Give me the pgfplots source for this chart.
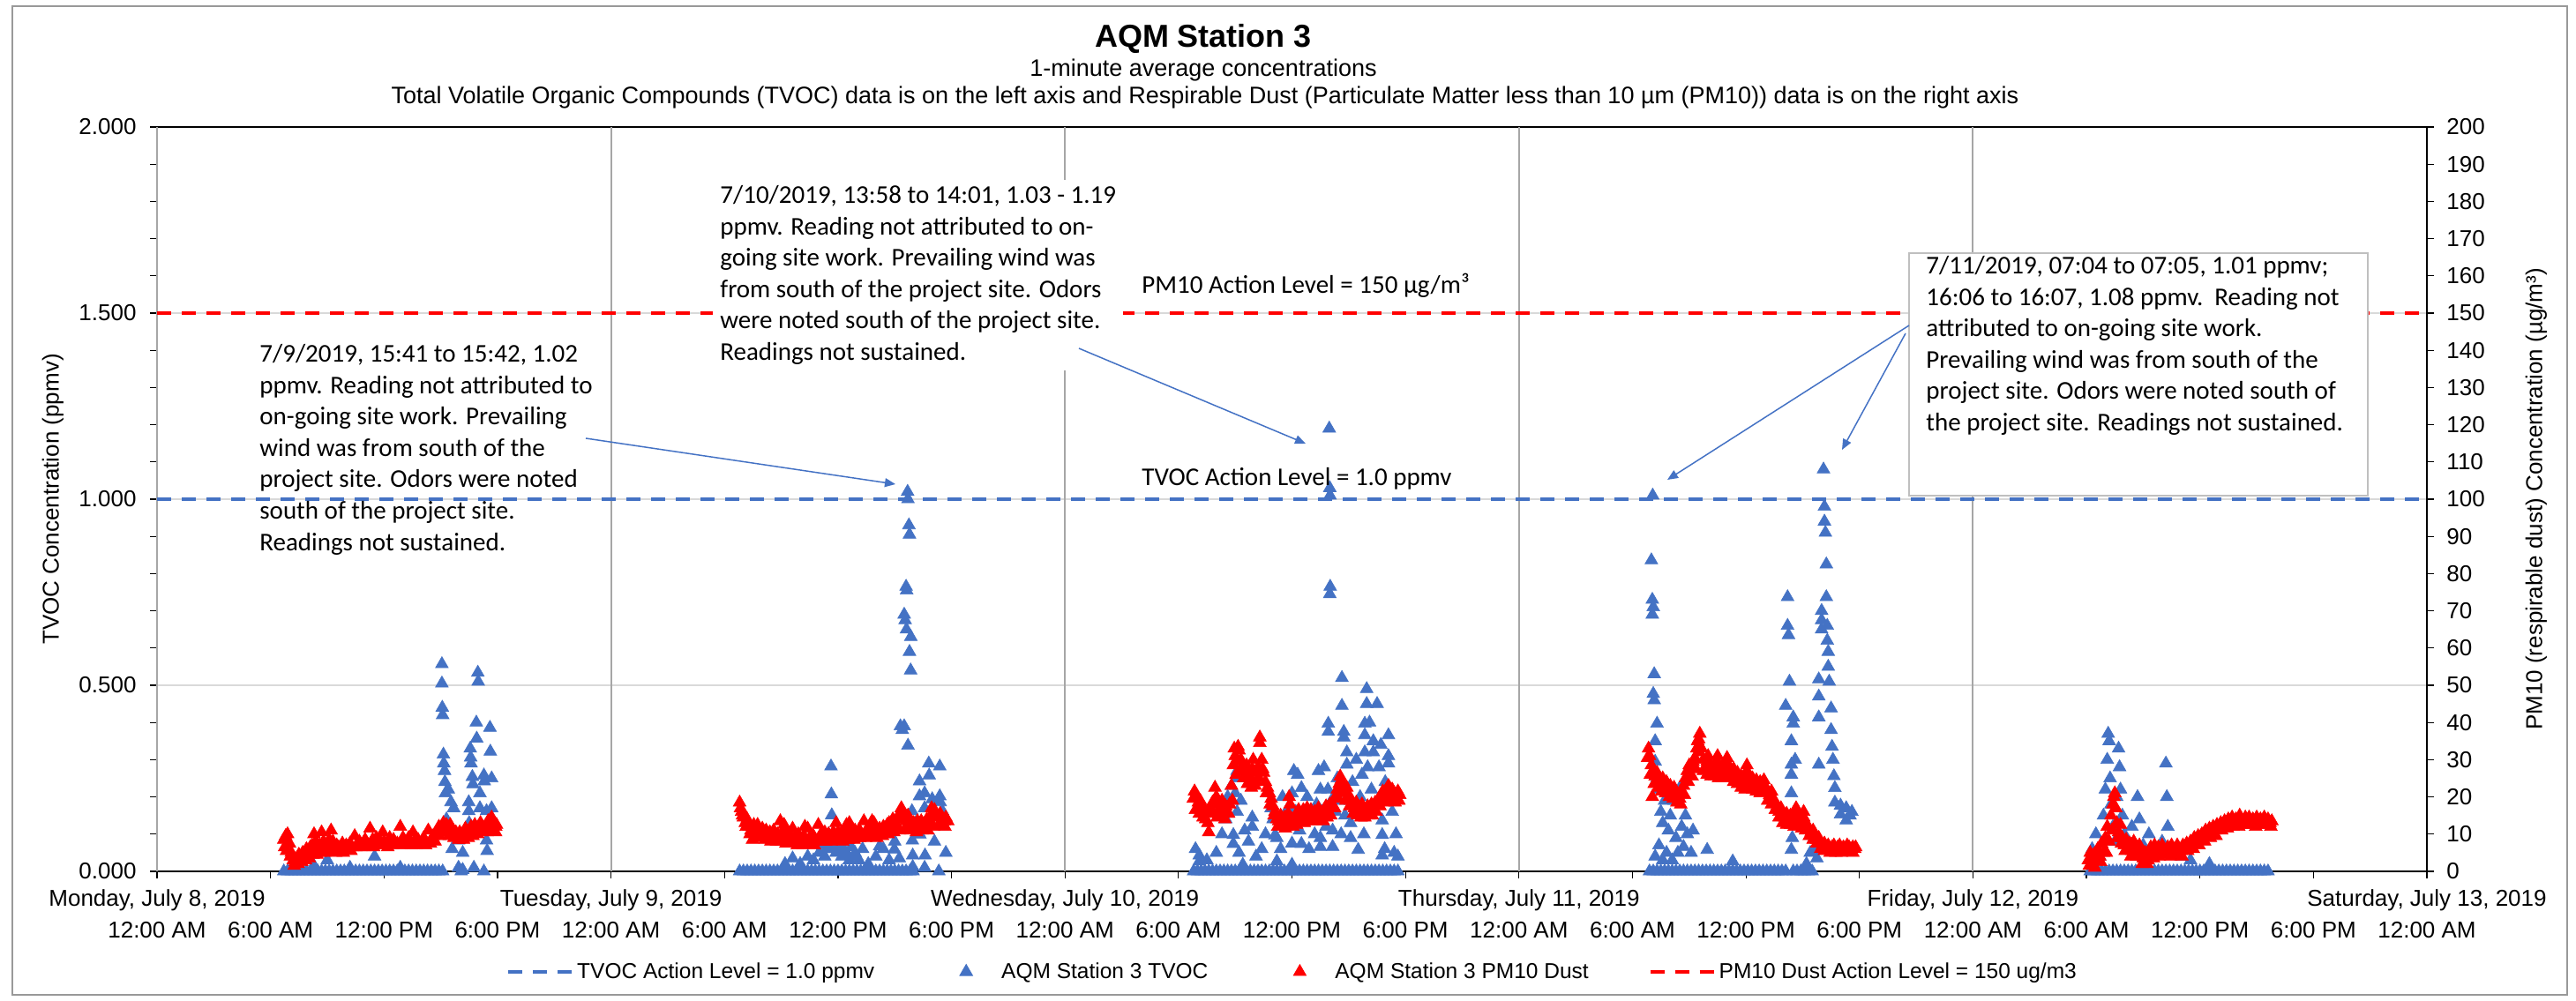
\documentclass[border=0pt]{standalone}
\usepackage{fontspec}
\setmainfont{Liberation Sans}
\newfontfamily\calibri{Carlito}
\usepackage{pgfplots}
\pgfplotsset{compat=1.18}
\usetikzlibrary{arrows.meta}
\definecolor{tvoc}{HTML}{4472C4}
\definecolor{pmred}{HTML}{FF0000}
\definecolor{vgrid}{HTML}{A6A6A6}
\definecolor{hgrid}{HTML}{D9D9D9}
\definecolor{boxgray}{HTML}{BFBFBF}
\pgfplotsset{every tick label/.append style={font=\fontsize{13}{15.6}\selectfont},
  linelegend/.style={legend image code/.code={\draw[##1] (0pt,0pt) -- (36pt,0pt);}},
  marklegend/.style={legend image code/.code={\path[draw=none, fill=none] (0pt,-3pt) rectangle (36pt,3pt); \draw[##1] plot coordinates {(18pt,0pt)};}},
}
\begin{document}
\begin{tikzpicture}
\useasboundingbox (0,0) rectangle (1460pt,567.5pt);
\draw[line width=1pt, black!40] (7pt,3.5pt) rectangle (1455pt,564pt);
% ---------------- left axis: TVOC
\begin{axis}[at={(89pt,73.5pt)}, anchor=south west, scale only axis,
  width=1286.5pt, height=422pt,
  xmin=0, xmax=120, ymin=0, ymax=2, clip=false,
  axis line style={black, line width=0.75pt},
  tick align=outside, tick pos=left,
  major tick length=4pt, minor tick length=4pt,
  tick style={black, line width=0.6pt},
  xtick={0,6,...,120},
  xticklabels={12:00 AM,6:00 AM,12:00 PM,6:00 PM,12:00 AM,6:00 AM,12:00 PM,6:00 PM,12:00 AM,6:00 AM,12:00 PM,6:00 PM,12:00 AM,6:00 AM,12:00 PM,6:00 PM,12:00 AM,6:00 AM,12:00 PM,6:00 PM,12:00 AM},
  xticklabel style={anchor=base, yshift=-34pt},
  extra x ticks={0,24,48,72,96,120},
  extra x tick labels={{Monday, July 8, 2019},{Tuesday, July 9, 2019},{Wednesday, July 10, 2019},{Thursday, July 11, 2019},{Friday, July 12, 2019},{Saturday, July 13, 2019}},
  extra x tick style={grid=major, major grid style={vgrid, line width=1pt}, tick label style={yshift=18pt}},
  ytick={0,0.5,...,2}, minor y tick num=4,
  ymajorgrids, major grid style={hgrid, line width=1pt},
  yticklabel style={xshift=-4.2pt, /pgf/number format/.cd, fixed, fixed zerofill, precision=3, assume math mode=true},
  every axis y label/.style={at={(rel axis cs:0,0.5)}, xshift=-59pt, rotate=90, anchor=center, font=\fontsize{13}{15.6}\selectfont},
  ylabel={TVOC Concentration (ppmv)},
]
\addplot[tvoc, line width=2pt, dash pattern=on 8pt off 6pt] coordinates {(0,1) (120,1)};
\addplot[only marks, mark=triangle*, mark size=4.2pt, color=tvoc, mark options={fill=tvoc, draw=tvoc, line width=0.3pt}] coordinates {
(6.7,0) (6.9,0) (7.1,0) (7.3,0) (7.5,0) (7.7,0) (7.9,0) (8.1,0) (8.3,0) (8.5,0) (8.7,0) (8.9,0) (9.1,0) (9.3,0) (9.5,0) (9.7,0) (9.9,0) (10.1,0) (10.3,0) (10.5,0) (10.7,0) (10.9,0) (11.1,0) (11.3,0) (11.5,0) (11.7,0) (11.9,0) (12.1,0) (12.3,0) (12.5,0) (12.7,0) (12.9,0) (13.1,0) (13.3,0) (13.5,0) (13.7,0) (13.9,0) (14.1,0) (14.3,0) (14.5,0) (14.7,0) (14.9,0) (15.1,0)
(8.3,0.015) (9.0,0.03) (10.2,0.01) (11.5,0.04) (12.86,0.01)
(15.06,0.557) (15.06,0.505) (15.08,0.44) (15.1,0.42) (15.14,0.314) (15.16,0.29) (15.2,0.27) (15.22,0.24) (15.25,0.21) (15.3,0.14) (15.4,0.22) (15.5,0.12) (15.54,0.186) (15.6,0.06) (15.68,0.17) (15.94,0.083) (15.94,0.01) (16.08,0.0) (16.16,0.05) (16.16,0.004) (16.35,0.115) (16.48,0.186) (16.48,0.162) (16.5,0.13) (16.56,0.33) (16.58,0.306) (16.6,0.29) (16.67,0.254) (16.7,0.234) (16.75,0.01) (16.88,0.40) (16.9,0.357) (16.96,0.534) (16.98,0.51) (17.07,0.21) (17.07,0.17) (17.28,0.258) (17.3,0.242) (17.28,0.0) (17.42,0.162) (17.42,0.083) (17.45,0.055) (17.6,0.386) (17.62,0.322) (17.69,0.25) (17.69,0.17)
(30.8,0) (31.0,0) (31.2,0) (31.4,0) (31.6,0) (31.8,0) (32.0,0) (32.2,0) (32.4,0) (32.6,0) (32.8,0) (33.0,0) (33.2,0) (33.4,0) (33.6,0) (33.8,0) (34.0,0) (34.2,0) (34.4,0) (34.6,0) (34.8,0) (35.0,0) (35.2,0) (35.4,0) (35.6,0) (35.8,0) (36.0,0) (36.2,0) (36.4,0) (36.6,0) (36.8,0) (37.0,0) (37.2,0) (37.4,0) (37.6,0) (37.8,0) (38.0,0) (38.2,0) (38.4,0) (38.6,0) (38.8,0) (39.0,0) (39.2,0) (39.4,0) (39.6,0) (39.8,0)
(33.2,0.02) (33.6,0.035) (34.0,0.02) (34.4,0.04) (34.7,0.03) (35.1,0.09) (35.3,0.04) (35.5,0.1) (35.8,0.06) (36.0,0.1) (36.2,0.04) (36.4,0.08) (36.6,0.03) (36.8,0.09) (37.0,0.04) (37.3,0.06) (37.6,0.02) (38.0,0.04) (38.4,0.06) (38.5,0.1) (38.7,0.03) (39.0,0.08) (39.1,0.12)
(35.0,0.05) (35.2,0.07) (35.4,0.06) (35.63,0.282) (35.65,0.207) (35.67,0.151) (35.7,0.075) (35.9,0.05) (36.1,0.07) (36.3,0.06) (36.5,0.045) (36.7,0.065) (36.9,0.05) (37.1,0.03) (38.17,0.099) (38.2,0.067) (38.98,0.059) (39.24,0.035)
(39.68,1.02) (39.7,1.0) (39.75,0.93) (39.78,0.905) (39.6,0.765) (39.63,0.755) (39.5,0.69) (39.55,0.675) (39.62,0.65) (39.85,0.63) (39.78,0.59) (39.84,0.54) (39.3,0.39) (39.4,0.38) (39.5,0.39) (39.7,0.338)
(39.91,0.162) (39.91,0.115) (39.93,0.083) (39.95,0.043) (39.95,0.012) (39.97,0.0) (40.1,0.13) (40.31,0.242) (40.31,0.202) (40.33,0.099) (40.58,0.21) (40.58,0.17) (40.6,0.043) (40.58,0.01) (40.8,0.29) (40.82,0.258) (40.98,0.194) (41.1,0.08) (41.33,0.0) (41.38,0.282) (41.38,0.202) (41.4,0.186) (41.52,0.162) (41.52,0.122) (41.7,0.05)
(54.8,0) (55.0,0) (55.2,0) (55.4,0) (55.6,0) (55.8,0) (56.0,0) (56.2,0) (56.4,0) (56.6,0) (56.8,0) (57.0,0) (57.2,0) (57.4,0) (57.6,0) (57.8,0) (58.0,0) (58.2,0) (58.4,0) (58.6,0) (58.8,0) (59.0,0) (59.2,0) (59.4,0) (59.6,0) (59.8,0) (60.0,0) (60.2,0) (60.4,0) (60.6,0) (60.8,0) (61.0,0) (61.2,0) (61.4,0) (61.6,0) (61.8,0) (62.0,0) (62.2,0) (62.4,0) (62.6,0) (62.8,0) (63.0,0) (63.2,0) (63.4,0) (63.6,0) (63.8,0) (64.0,0) (64.2,0) (64.4,0) (64.6,0) (64.8,0) (65.0,0) (65.2,0) (65.4,0) (65.6,0)
(55.1,0.043) (55.1,0.027) (54.9,0.06) (57.1,0.27) (57.1,0.25) (57.1,0.16) (56.9,0.098) (56.9,0.074) (57.9,0.145) (57.9,0.12) (59.2,0.09) (60.1,0.27) (60.0,0.21) (60.0,0.13) (60.0,0.075) (60.5,0.224) (61.5,0.22) (62.02,0.765) (62.0,0.745) (61.97,1.19) (62.0,1.03) (62.01,1.01) (61.92,0.397) (61.92,0.375) (62.64,0.52) (62.64,0.445) (62.74,0.375) (62.74,0.36) (62.9,0.32) (62.9,0.287) (62.15,0.066) (62.15,0.11) (62.3,0.16) (63.95,0.49) (63.95,0.45) (64.5,0.45) (63.85,0.397) (63.85,0.366) (63.85,0.32) (64.3,0.35) (64.3,0.32) (65.1,0.366) (65.1,0.31) (65.1,0.29) (64.93,0.24) (64.93,0.21) (64.77,0.137) (64.77,0.098) (64.77,0.043) (65.4,0.05) (63.1,0.13) (63.1,0.09) (63.5,0.058) (59.1,0.097) (60.5,0.074) (61.5,0.09) (61.5,0.066) (60.0,0.018) (57.4,0.018) (59.2,0.027) (56.6,0.2) (56.8,0.23) (57.3,0.19) (57.5,0.11) (58.4,0.06) (58.9,0.17) (59.5,0.2) (59.8,0.17) (60.3,0.26) (60.8,0.2) (61.1,0.14) (61.3,0.18) (61.7,0.28) (61.8,0.12) (62.4,0.25) (62.5,0.19) (63.2,0.24) (63.4,0.3) (63.7,0.26) (64.1,0.4) (64.2,0.22) (64.6,0.28) (65.3,0.16) (65.5,0.1)
(55.5,0.03) (56.0,0.05) (56.3,0.1) (56.5,0.14) (57.0,0.21) (57.2,0.05) (57.7,0.08) (58.1,0.04) (58.6,0.1) (59.0,0.14) (59.4,0.06) (59.7,0.12) (60.2,0.16) (60.4,0.11) (60.7,0.15) (60.9,0.06) (61.2,0.1) (61.4,0.27) (61.6,0.16) (61.9,0.22) (62.2,0.2) (62.6,0.1) (62.8,0.15) (63.0,0.2) (63.3,0.16) (63.6,0.2) (63.8,0.1) (64.0,0.28) (64.4,0.18) (64.7,0.34) (64.9,0.06) (65.2,0.22) (65.6,0.04)
(78.9,0) (79.1,0) (79.3,0) (79.5,0) (79.7,0) (79.9,0) (80.1,0) (80.3,0) (80.5,0) (80.7,0) (80.9,0) (81.1,0) (81.3,0) (81.5,0) (81.7,0) (81.9,0) (82.1,0) (82.3,0) (82.5,0) (82.7,0) (82.9,0) (83.1,0) (83.3,0) (83.5,0) (83.7,0) (83.9,0) (84.1,0) (84.3,0) (84.5,0) (84.7,0) (84.9,0) (85.1,0) (85.3,0) (85.5,0) (85.7,0) (85.9,0) (86.1,0) (86.5,0) (86.7,0) (86.9,0) (87.1,0) (87.3,0) (87.5,0)
(79.07,1.01) (79.0,0.836) (79.05,0.73) (79.1,0.71) (79.05,0.69) (79.15,0.53) (79.1,0.477) (79.15,0.46) (79.3,0.397) (79.2,0.35) (79.2,0.295) (79.3,0.25) (79.4,0.22) (79.5,0.16) (79.6,0.13) (79.7,0.19) (79.9,0.11) (80.0,0.15) (80.2,0.19) (80.3,0.09) (80.5,0.224) (80.6,0.12) (80.7,0.066) (80.8,0.15) (80.9,0.1) (81.1,0.05) (81.2,0.11) (81.95,0.058) (83.3,0.027) (79.2,0.04) (79.4,0.07) (79.6,0.03) (79.8,0.05) (80.1,0.03) (80.4,0.05)
(86.2,0.737) (86.2,0.66) (86.25,0.635) (86.3,0.51) (86.1,0.445) (86.5,0.414) (86.5,0.397) (86.4,0.35) (86.4,0.287) (86.4,0.26) (86.4,0.21) (86.4,0.13) (86.45,0.09) (86.4,0.058) (86.6,0.3)
(87.85,0.516) (87.85,0.47) (87.85,0.414) (87.85,0.287) (88.0,0.70) (88.0,0.675) (88.0,0.65) (88.1,1.08) (88.15,0.98) (88.15,0.94) (88.2,0.91) (88.25,0.825) (88.25,0.737) (88.3,0.66) (88.3,0.62) (88.35,0.59) (88.35,0.55) (88.4,0.51) (88.5,0.438) (88.5,0.38) (88.55,0.335) (88.6,0.30) (88.65,0.256) (88.7,0.224) (88.7,0.185) (89.0,0.177) (89.0,0.153) (89.3,0.17) (89.3,0.137) (89.5,0.15) (89.6,0.16) (87.6,0.09) (87.7,0.06) (87.75,0.035) (87.2,0.02) (87.4,0.05)
(102.2,0) (102.4,0) (102.6,0) (102.8,0) (103.0,0) (103.2,0) (103.4,0) (103.6,0) (103.8,0) (104.0,0) (104.2,0) (104.4,0) (104.6,0) (104.8,0) (105.0,0) (105.2,0) (105.4,0) (105.6,0) (105.8,0) (106.0,0) (106.2,0) (106.4,0) (106.6,0) (106.8,0) (107.0,0) (107.2,0) (107.4,0) (107.6,0) (107.8,0) (108.0,0) (108.2,0) (108.4,0) (108.6,0) (108.8,0) (109.0,0) (109.2,0) (109.4,0) (109.6,0) (109.8,0) (110.0,0) (110.2,0) (110.4,0) (110.6,0) (110.8,0) (111.0,0) (111.2,0) (111.4,0) (111.6,0)
(102.3,0.06) (102.5,0.1) (102.7,0.04) (102.9,0.15) (103.0,0.22) (103.1,0.3) (103.15,0.37) (103.2,0.35) (103.25,0.25) (103.3,0.18) (103.4,0.12) (103.5,0.08) (103.6,0.2) (103.7,0.33) (103.75,0.28) (103.8,0.22) (103.9,0.15) (104.0,0.1) (104.2,0.06) (104.4,0.12) (104.7,0.2) (104.8,0.14) (105.0,0.07) (105.3,0.1) (105.6,0.05) (106.0,0.08) (106.2,0.29) (106.25,0.2) (106.3,0.12) (106.5,0.05) (107.0,0.04) (107.5,0.03) (108.5,0.02)
};
\end{axis}
% ---------------- right axis: PM10
\begin{axis}[at={(89pt,73.5pt)}, anchor=south west, scale only axis,
  width=1286.5pt, height=422pt,
  xmin=0, xmax=120, ymin=0, ymax=200, clip=false,
  axis y line*=right, axis x line=none,
  axis line style={black, line width=0.75pt},
  tick align=outside, major tick length=4pt,
  tick style={black, line width=0.6pt},
  ytick={0,10,...,200},
  yticklabel style={xshift=3.7pt, /pgf/number format/assume math mode=true},
  every axis y label/.style={at={(rel axis cs:1,0.5)}, xshift=62pt, rotate=90, anchor=center, font=\fontsize{13}{15.6}\selectfont},
  ylabel={PM10 (respirable dust) Concentration (µg/m³)},
  legend style={at={(0.5006,-0.135)}, anchor=center, draw=none, fill=none, legend columns=4,
    font=\fontsize{12.25}{15}\selectfont, /tikz/every even column/.append style={column sep=32pt}},
]
\addlegendimage{tvoc, line width=2pt, dash pattern=on 8pt off 6pt, linelegend}
\addlegendentry{TVOC Action Level = 1.0 ppmv}
\addlegendimage{only marks, mark=triangle*, mark size=4.2pt, color=tvoc, mark options={fill=tvoc, draw=tvoc}, marklegend}
\addlegendentry{AQM Station 3 TVOC}
\addplot[only marks, mark=triangle*, mark size=4.2pt, color=pmred, mark options={fill=pmred, draw=pmred, line width=0.3pt}, marklegend] coordinates {
(6.70,8.5) (6.75,6.5) (6.8,9.5) (6.9,10.0) (7.0,7.5) (7.1,5.0) (7.2,3.0) (7.3,2.5) (7.4,3.5) (7.5,4.5) (7.6,3.5) (7.7,5.0) (7.8,4.0) (7.9,6.0) (8.0,5.0) (8.1,6.5) (8.2,7.0) (8.3,10.0) (8.4,8.0) (8.5,6.0) (8.6,7.0) (8.7,10.5) (8.8,8.0) (8.9,6.5) (9.0,7.0) (9.1,8.5) (9.2,11.0) (9.3,8.0) (9.4,6.0) (9.5,7.0) (9.6,6.5) (9.8,7.5) (9.9,6.0) (10.0,7.0) (10.2,7.5) (10.3,6.5) (10.45,9.5) (10.6,7.5) (10.7,8.0) (10.9,7.0) (11.0,8.5) (11.1,7.5) (11.26,11.5) (11.4,8.5) (11.5,7.5) (11.6,9.0) (11.8,8.0) (11.93,10.5) (12.0,8.0) (12.2,7.5) (12.3,9.0) (12.5,8.5) (12.6,7.5) (12.86,12.0) (13.0,9.0) (13.1,8.0) (13.3,9.0) (13.53,10.5) (13.6,8.0) (13.8,8.5) (14.0,7.5) (14.1,9.0) (14.34,11.0) (14.5,8.5) (14.6,9.5) (14.8,10.5) (14.9,12.0) (15.0,11.0) (15.14,13.0) (15.3,12.5) (15.4,11.0) (15.5,12.5) (15.6,11.5) (15.8,10.5) (15.94,9.5) (16.0,10.5) (16.1,9.0) (16.2,10.0) (16.3,11.5) (16.48,10.0) (16.6,12.0) (16.7,11.0) (16.8,12.5) (16.9,11.5) (17.0,12.0) (17.1,13.0) (17.2,12.0) (17.3,11.5) (17.4,12.5) (17.5,13.5) (17.69,14.5) (17.8,13.0) (17.9,12.0) (17.95,12.5)
(6.85,5.5) (7.05,4.0) (7.25,1.5) (7.45,2.0) (7.65,2.5) (7.85,3.0) (8.05,3.5) (8.25,4.5) (8.45,4.5) (8.65,5.0) (8.85,5.0) (9.05,5.5) (9.25,6.0) (9.45,5.0) (9.65,5.5) (9.85,5.0) (10.05,6.0) (10.25,5.5) (10.5,6.5) (10.75,6.5) (11.0,6.5) (11.2,7.0) (11.45,6.5) (11.7,7.0) (11.95,7.0) (12.2,6.5) (12.45,7.0) (12.7,7.5) (12.95,7.0) (13.2,7.5) (13.45,7.0) (13.7,7.0) (13.95,7.5) (14.2,7.0) (14.45,7.5) (14.7,8.0) (14.95,9.5) (15.2,10.5) (15.45,9.5) (15.7,9.0) (15.95,8.5) (16.2,8.5) (16.45,9.0) (16.7,9.5) (16.95,10.0) (17.2,10.5) (17.45,10.5) (17.7,11.0) (17.9,10.5)
(30.8,18.5) (30.85,17.0) (30.9,16.0) (31.0,14.5) (31.1,13.0) (31.2,14.0) (31.3,12.0) (31.4,11.0) (31.48,8.5) (31.55,12.5) (31.65,11.0) (31.75,12.5) (31.85,10.5) (32.0,11.5) (32.1,10.0) (32.2,11.0) (32.3,9.5) (32.4,10.5) (32.5,9.0) (32.6,11.0) (32.7,9.5) (32.8,10.0) (32.95,13.5) (33.05,10.5) (33.2,9.0) (33.3,10.5) (33.4,8.5) (33.5,9.5) (33.6,11.5) (33.7,9.0) (33.8,8.0) (33.9,10.0) (34.0,9.0) (34.1,7.5) (34.2,9.5) (34.4,11.5) (34.5,9.0) (34.6,8.0) (34.7,9.5) (34.8,8.5) (34.96,12.5) (35.1,10.0) (35.2,9.0) (35.3,10.5) (35.4,9.5) (35.5,10.0) (35.6,9.0) (35.75,10.5) (35.9,13.0) (36.0,10.5) (36.1,9.5) (36.2,10.5) (36.3,9.5) (36.4,11.0) (36.6,13.0) (36.7,10.5) (36.8,9.5) (36.9,11.0) (37.0,10.0) (37.1,11.0) (37.2,10.5) (37.37,13.5) (37.5,11.0) (37.6,10.5) (37.7,11.5) (37.9,13.0) (38.0,11.0) (38.1,10.5) (38.2,11.5) (38.3,11.0) (38.4,12.0) (38.5,11.5) (38.6,12.5) (38.7,13.0) (38.8,12.0) (38.9,14.0) (39.0,13.0) (39.1,12.5) (39.2,15.0) (39.3,14.0) (39.4,16.0) (39.5,14.5) (39.6,13.5) (39.7,15.0) (39.8,14.0) (39.9,12.5) (40.0,13.0) (40.1,12.0) (40.2,13.5) (40.3,12.5) (40.4,13.5) (40.5,12.0) (40.6,13.0) (40.7,14.0) (40.8,13.0) (40.9,14.5) (41.0,15.5) (41.1,16.5) (41.2,15.0) (41.3,14.5) (41.4,15.5) (41.5,14.0) (41.6,13.5) (41.7,14.5) (41.8,13.5)
(30.95,15.0) (31.15,12.0) (31.35,10.0) (31.6,9.5) (31.9,9.0) (32.15,8.5) (32.45,8.0) (32.75,8.0) (33.0,8.0) (33.25,7.5) (33.55,7.5) (33.85,7.0) (34.15,7.0) (34.45,7.5) (34.75,7.0) (35.05,8.0) (35.35,8.0) (35.65,8.0) (35.95,8.5) (36.25,8.0) (36.55,8.5) (36.85,8.5) (37.15,9.0) (37.45,9.0) (37.75,9.5) (38.05,9.0) (38.35,9.5) (38.65,10.0) (38.95,10.5) (39.25,11.0) (39.55,11.5) (39.85,11.0) (40.15,10.5) (40.45,11.0) (40.75,11.0) (41.05,12.0) (41.35,12.5) (41.65,12.0) (33.15,12.5) (34.25,12.0) (36.45,12.5) (37.8,13.5) (39.35,17.0) (40.95,17.0)
(54.78,19.5) (54.85,21.5) (54.95,20.0) (55.05,18.5) (55.15,19.0) (55.25,17.5) (55.35,16.5) (55.44,14.0) (55.5,16.0) (55.6,10.5) (55.7,17.0) (55.8,18.5) (55.93,22.5) (56.0,20.0) (56.1,18.0) (56.2,17.0) (56.3,19.0) (56.4,16.5) (56.5,17.5) (56.6,15.5) (56.7,18.0) (56.8,23.0) (56.9,28.5) (57.0,31.0) (57.1,29.5) (57.2,32.5) (57.3,30.0) (57.4,28.0) (57.5,27.0) (57.6,28.5) (57.7,26.0) (57.8,25.0) (57.9,27.5) (58.0,26.5) (58.1,24.0) (58.2,28.0) (58.3,34.5) (58.4,30.0) (58.5,26.5) (58.6,24.0) (58.7,22.5) (58.8,21.0) (58.9,19.5) (59.0,17.5) (59.1,16.0) (59.2,14.0) (59.3,13.5) (59.4,15.0) (59.5,13.0) (59.6,14.5) (59.7,12.5) (59.8,15.5) (59.9,18.0) (60.0,14.0) (60.1,13.0) (60.2,15.0) (60.35,16.5) (60.5,15.0) (60.6,16.5) (60.7,15.0) (60.8,17.0) (60.9,15.5) (61.0,16.5) (61.1,15.0) (61.2,16.0) (61.3,15.5) (61.4,17.0) (61.5,16.0) (61.6,15.5) (61.7,16.5) (61.8,17.5) (61.9,16.0) (62.0,18.0) (62.15,17.0) (62.3,20.0) (62.4,22.0) (62.5,23.5) (62.6,24.5) (62.7,23.0) (62.8,21.5) (62.9,22.5) (63.0,20.5) (63.1,19.0) (63.2,18.0) (63.3,17.0) (63.4,18.5) (63.5,17.5) (63.6,16.5) (63.7,18.0) (63.8,17.0) (63.9,16.0) (64.0,17.5) (64.1,16.5) (64.2,18.0) (64.3,17.0) (64.4,18.5) (64.55,19.0) (64.7,20.0) (64.8,21.5) (64.9,20.5) (65.0,22.0) (65.1,23.0) (65.2,21.5) (65.3,22.0) (65.4,21.0) (65.5,20.5) (65.6,21.5) (65.7,20.5)
(54.9,16.5) (55.1,15.5) (55.3,14.5) (55.55,13.0) (55.85,15.5) (56.05,14.5) (56.25,15.0) (56.45,14.0) (56.65,15.5) (56.85,19.0) (57.05,26.0) (57.25,27.0) (57.45,25.0) (57.65,23.5) (57.85,22.5) (58.05,23.0) (58.25,25.0) (58.45,27.5) (58.65,21.0) (58.85,18.0) (59.05,15.0) (59.25,12.0) (59.45,12.5) (59.65,11.5) (59.85,12.5) (60.05,12.0) (60.25,12.5) (60.45,13.5) (60.65,13.0) (60.85,14.0) (61.05,13.5) (61.25,13.5) (61.45,14.0) (61.65,13.5) (61.85,14.5) (62.05,15.0) (62.25,17.0) (62.45,19.5) (62.65,21.0) (62.85,19.0) (63.05,17.5) (63.25,15.5) (63.45,15.0) (63.65,14.5) (63.85,14.5) (64.05,15.0) (64.25,15.0) (64.45,16.0) (64.65,17.5) (64.85,18.5) (65.05,19.0) (65.25,19.5) (65.45,18.5) (65.65,19.0) (56.95,33.0) (57.15,33.5) (58.3,36.0) (57.95,30.0) (59.85,20.0) (62.55,25.5)
(78.8,30.5) (78.85,33.0) (78.9,31.0) (79.0,28.5) (79.05,20.0) (79.1,27.0) (79.2,25.5) (79.3,26.5) (79.4,25.0) (79.5,24.0) (79.6,25.0) (79.7,23.5) (79.8,24.0) (79.9,22.5) (80.0,23.0) (80.1,21.5) (80.2,22.5) (80.3,21.0) (80.4,20.5) (80.5,19.5) (80.6,21.0) (80.7,23.0) (80.8,25.0) (80.9,27.0) (81.0,28.5) (81.1,27.5) (81.2,29.5) (81.3,30.5) (81.4,33.0) (81.5,35.5) (81.56,37.0) (81.65,33.0) (81.75,30.0) (81.85,28.0) (81.95,29.5) (82.05,27.5) (82.15,28.5) (82.25,27.0) (82.35,28.5) (82.45,29.5) (82.55,27.5) (82.65,28.0) (82.75,27.0) (82.85,28.5) (82.95,29.0) (83.05,27.5) (83.15,28.0) (83.25,26.5) (83.35,27.5) (83.45,25.5) (83.55,26.5) (83.65,24.5) (83.75,25.5) (83.85,24.0) (83.95,25.0) (84.05,27.0) (84.15,25.5) (84.25,24.0) (84.35,25.0) (84.45,23.5) (84.55,24.5) (84.65,23.0) (84.75,24.0) (84.85,23.5) (84.95,24.5) (85.05,22.5) (85.15,21.5) (85.25,20.5) (85.35,21.5) (85.45,19.5) (85.55,18.5) (85.65,17.5) (85.75,16.0) (85.85,17.0) (85.95,15.0) (86.05,14.5) (86.15,15.5) (86.25,14.0) (86.35,15.0) (86.45,13.5) (86.55,15.0) (86.65,14.0) (86.75,16.0) (86.85,14.5) (86.95,13.0) (87.05,14.5) (87.15,13.0) (87.25,12.0) (87.35,11.5) (87.45,10.5) (87.55,11.0) (87.65,9.5) (87.75,8.5) (87.85,9.0) (87.95,7.5) (88.05,7.0) (88.15,7.5) (88.25,6.5) (88.35,7.0) (88.45,6.0) (88.55,6.5) (88.65,7.0) (88.75,6.0) (88.85,6.5) (88.95,7.0) (89.05,6.0) (89.15,6.5) (89.25,6.0) (89.35,7.0) (89.45,6.5) (89.55,6.0) (89.65,6.5) (89.75,6.0) (89.8,6.5)
(78.95,26.0) (79.15,23.5) (79.35,22.5) (79.55,21.5) (79.75,21.0) (79.95,20.0) (80.15,19.5) (80.35,18.5) (80.55,18.0) (80.75,20.5) (80.95,24.0) (81.15,25.5) (81.35,27.5) (81.55,32.0) (81.75,27.0) (81.95,26.0) (82.15,25.5) (82.35,25.5) (82.55,25.0) (82.75,25.0) (82.95,25.5) (83.15,25.0) (83.35,24.0) (83.55,23.5) (83.75,22.5) (83.95,22.0) (84.15,22.5) (84.35,22.0) (84.55,21.5) (84.75,21.0) (84.95,21.5) (85.15,19.0) (85.35,18.0) (85.55,16.5) (85.75,14.5) (85.95,13.0) (86.15,12.5) (86.35,12.5) (86.55,12.0) (86.75,12.5) (86.95,11.5) (87.15,11.0) (87.35,9.5) (87.55,8.5) (87.75,7.5) (87.95,6.0) (88.15,5.5) (88.45,5.0) (88.75,5.0) (89.05,5.0) (89.35,5.5) (89.65,5.0) (81.45,35.0) (82.0,31.0) (82.5,31.0) (83.0,30.5) (84.05,28.5) (86.65,17.0) (87.05,16.0)
(102.1,3.0) (102.2,5.0) (102.3,2.0) (102.4,4.5) (102.5,3.0) (102.6,6.0) (102.7,4.0) (102.8,7.5) (102.9,5.0) (103.0,9.0) (103.1,12.0) (103.2,8.0) (103.3,15.0) (103.4,18.0) (103.5,21.0) (103.55,17.0) (103.6,13.0) (103.7,10.5) (103.8,12.5) (103.9,9.0) (104.0,7.0) (104.1,8.5) (104.2,6.0) (104.3,7.5) (104.4,5.5) (104.5,8.0) (104.6,6.5) (104.7,5.0) (104.8,7.0) (104.9,5.5) (105.0,3.5) (105.1,5.0) (105.2,2.0) (105.3,4.5) (105.4,6.5) (105.5,5.0) (105.6,7.0) (105.7,5.5) (105.8,6.5) (105.9,5.0) (106.0,7.0) (106.1,6.0) (106.2,5.0) (106.3,6.5) (106.4,5.5) (106.5,7.0) (106.6,6.0) (106.7,5.5) (106.8,7.0) (106.9,6.0) (107.0,5.5) (107.1,7.0) (107.2,6.0) (107.3,7.5) (107.4,6.5) (107.5,8.0) (107.6,7.5) (107.7,9.0) (107.8,8.0) (107.9,9.5) (108.0,8.5) (108.1,10.0) (108.2,9.5) (108.3,11.0) (108.4,10.0) (108.5,11.5) (108.6,10.5) (108.7,12.0) (108.8,11.0) (108.9,12.5) (109.0,12.0) (109.1,13.0) (109.2,12.5) (109.3,13.5) (109.4,12.5) (109.5,14.0) (109.6,13.5) (109.7,14.5) (109.8,13.0) (109.9,14.0) (110.0,13.5) (110.1,15.0) (110.2,14.0) (110.3,13.5) (110.4,14.5) (110.5,13.5) (110.6,14.5) (110.7,13.5) (110.8,14.0) (110.9,13.0) (111.0,14.5) (111.1,13.5) (111.2,14.0) (111.3,13.0) (111.4,14.5) (111.5,13.5) (111.6,14.0) (111.7,13.0) (111.8,13.5)
(102.15,1.5) (102.45,1.0) (102.75,2.5) (103.05,5.0) (103.35,11.0) (103.45,20.0) (103.65,9.0) (103.85,7.5) (104.05,5.5) (104.35,4.0) (104.65,4.0) (104.95,2.0) (105.25,3.0) (105.55,3.5) (105.85,4.0) (106.15,4.5) (106.45,4.0) (106.75,4.5) (107.05,4.0) (107.35,5.5) (107.65,6.0) (107.95,7.0) (108.25,8.0) (108.55,9.0) (108.85,9.5) (109.15,11.0) (109.45,11.5) (109.75,12.0) (110.05,12.0) (110.35,12.5) (110.65,12.5) (110.95,12.0) (111.25,12.5) (111.55,12.5) (111.75,12.0)
};
\addlegendentry{AQM Station 3 PM10 Dust}
\addplot[pmred, line width=2pt, dash pattern=on 8pt off 6pt, linelegend] coordinates {(0,150) (120,150)};
\addlegendentry{PM10 Dust Action Level = 150 ug/m3}
\end{axis}
% ---------------- titles
\node[font=\fontsize{18}{22}\selectfont\bfseries, anchor=base] at (682pt,540.5pt) {AQM Station 3};
\node[font=\fontsize{13.5}{16}\selectfont, anchor=base] at (682pt,524pt) {1-minute average concentrations};
\node[font=\fontsize{13.5}{16}\selectfont, anchor=base] at (683pt,508.5pt) {Total Volatile Organic Compounds (TVOC) data is on the left axis and Respirable Dust (Particulate Matter less than 10 µm (PM10)) data is on the right axis};
% ---------------- annotations
\tikzset{ann/.style={anchor=north west, align=left, font=\calibri\fontsize{14.5}{17.8}\selectfont, inner xsep=4pt, inner ysep=3pt, fill=white}}
\node[ann, fill=none] at (143pt,375.5pt) {7/9/2019, 15:41 to 15:42, 1.02\\ppmv. Reading not attributed to\\on-going site work. Prevailing\\wind was from south of the\\project site. Odors were noted\\south of the project site.\\Readings not sustained.};
\node[ann] at (404pt,465.5pt) {7/10/2019, 13:58 to 14:01, 1.03 - 1.19\\ppmv. Reading not attributed to on-\\going site work. Prevailing wind was\\from south of the project site. Odors\\were noted south of the project site.\\Readings not sustained.};
\draw[boxgray, line width=1pt, fill=white] (1082pt,286.5pt) rectangle (1342pt,424pt);
\node[ann, fill=none] at (1087.5pt,425.5pt) {7/11/2019, 07:04 to 07:05, 1.01 ppmv;\\16:06 to 16:07, 1.08 ppmv.\ \ Reading not\\attributed to on-going site work.\\Prevailing wind was from south of the\\project site. Odors were noted south of\\the project site. Readings not sustained.};
\node[anchor=base west, inner sep=0pt, font=\calibri\fontsize{14.5}{18}\selectfont] at (647pt,401pt) {PM10 Action Level = 150 µg/m³};
\node[anchor=base west, inner sep=0pt, font=\calibri\fontsize{14.5}{18}\selectfont] at (647pt,292pt) {TVOC Action Level = 1.0 ppmv};
\tikzset{arr/.style={tvoc, line width=0.75pt, -{Triangle[length=6pt,width=5pt]}}}
\draw[arr] (332pt,319pt) -- (507.5pt,293pt);
\draw[arr] (611.5pt,370pt) -- (740pt,316pt);
\draw[arr] (1082pt,383pt) -- (945pt,295.5pt);
\draw[arr] (1080pt,378.5pt) -- (1044pt,312.5pt);
\end{tikzpicture}
\end{document}
